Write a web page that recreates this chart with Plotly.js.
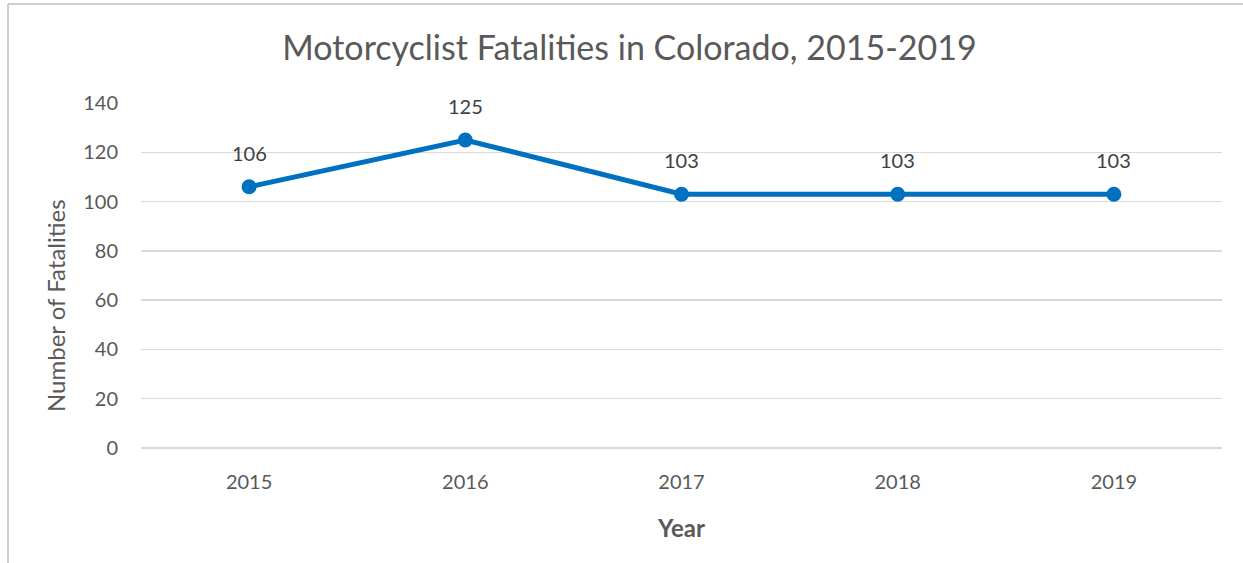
<!DOCTYPE html>
<html>
<head>
<meta charset="utf-8">
<script src="https://cdn.plot.ly/plotly-3.0.1.min.js"></script>
<style>html,body{margin:0;padding:0;background:#fff;}#chart{width:1243px;height:563px;}</style>
</head>
<body>
<div id="chart"></div>
<script>
const years = ['2015', '2016', '2017', '2018', '2019'];
const fatalities = [106, 125, 103, 103, 103];
const yTicks = [0, 20, 40, 60, 80, 100, 120, 140];

const fontFam = 'Lato, "Open Sans", sans-serif';
const grey = '#595959';

const trace = {
  x: years,
  y: fatalities,
  type: 'scatter',
  mode: 'lines+markers',
  line: {color: '#0070C0', width: 5},
  marker: {color: '#0070C0', size: 15},
  hoverinfo: 'none'
};

const px2x = p => (p - 141) / 1081;
const px2y = p => (448 - p) / 345;

const annotations = years.map((yr, i) => ({
  x: i, y: fatalities[i], xref: 'x', yref: 'y',
  text: String(fatalities[i]), showarrow: false,
  yshift: 34, font: {family: fontFam, size: 20, color: '#404040'}
}));

annotations.push({
  xref: 'paper', yref: 'paper', x: px2x(55), y: px2y(306),
  xanchor: 'center', yanchor: 'middle', textangle: -90, showarrow: false,
  text: 'Number of Fatalities',
  font: {family: fontFam, size: 24, color: grey}
});

const layout = {
  width: 1243, height: 563,
  margin: {l: 141, r: 21, t: 103, b: 115},
  paper_bgcolor: '#ffffff', plot_bgcolor: '#ffffff',
  showlegend: false,
  font: {family: fontFam, color: grey},
  title: {
    text: 'Motorcyclist Fatalities in Colorado, 2015-2019',
    xref: 'container', yref: 'container', x: 0.5064, y: 1 - 48/563,
    xanchor: 'center', yanchor: 'middle',
    font: {family: fontFam, size: 34, color: grey}
  },
  xaxis: {
    type: 'category',
    range: [-0.5, 4.5],
    showgrid: false, zeroline: false, showline: false,
    ticks: '', ticklabelstandoff: 20,
    tickfont: {family: fontFam, size: 20, color: grey},
    title: {text: '<b>Year</b>', font: {family: fontFam, size: 24, color: grey}, standoff: 28}
  },
  yaxis: {
    range: [0, 140],
    tickvals: yTicks,
    showgrid: true, gridcolor: '#d9d9d9', gridwidth: 1.5,
    zeroline: true, zerolinecolor: '#d9d9d9', zerolinewidth: 1.5,
    showline: false, ticks: '', ticklabelstandoff: 22,
    tickfont: {family: fontFam, size: 20, color: grey}
  },
  annotations: annotations,
  shapes: [
    {type: 'line', xref: 'paper', yref: 'paper', x0: px2x(8), x1: px2x(8), y0: px2y(570), y1: px2y(4), line: {color: '#bfbfbf', width: 1.5}},
    {type: 'line', xref: 'paper', yref: 'paper', x0: px2x(8), x1: px2x(1250), y0: px2y(4), y1: px2y(4), line: {color: '#bfbfbf', width: 1.5}}
  ]
};

Plotly.newPlot('chart', [trace], layout, {displayModeBar: false, staticPlot: true});
</script>
</body>
</html>
